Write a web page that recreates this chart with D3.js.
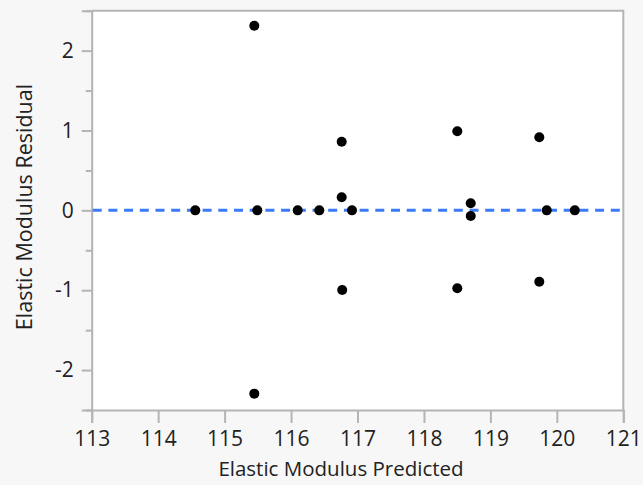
<!DOCTYPE html>
<html><head><meta charset="utf-8">
<script src="https://cdn.jsdelivr.net/npm/d3@7"></script>
<style>
html,body{margin:0;padding:0;background:#f7f7f7;}
svg{display:block;}
text{font-family:"Open Sans","Noto Sans",sans-serif;fill:#222;}
</style></head>
<body><svg id="chart" width="643" height="485"></svg>
<script>
const predicted = [115.447,114.559,115.492,116.100,116.425,116.762,116.762,116.917,116.77,118.502,118.704,118.704,118.502,119.736,119.848,119.736,120.27,115.447];
const residual  = [2.312,0,0,0,0,0.860,0.163,0,-0.997,0.990,0.088,-0.071,-0.976,0.915,0,-0.893,0,-2.295];
const xTicks = [113,114,115,116,117,118,119,120,121];
const yTicks = [-2,-1,0,1,2];
const yMinor = [-2.5,-1.5,-0.5,0.5,1.5,2.5];
const xTitle = "Elastic Modulus Predicted";
const yTitle = "Elastic Modulus Residual";

const svg = d3.select("#chart");
const L=91.7, R=623.3, T=10.7, B=410;
const x = d3.scaleLinear().domain([113,121]).range([L,R]);
const y = d3.scaleLinear().domain([-2.5,2.5]).range([B,T]);
const axisColor = "#b4b4b4";
const fmt = d => String(d);

svg.append("rect").attr("x",L).attr("y",T).attr("width",R-L).attr("height",B-T).attr("fill","#fff");
svg.append("path").attr("d",`M${L},${T}H${R}V${B}`).attr("fill","none").attr("stroke",axisColor).attr("stroke-width",2);

const gx = svg.append("g").attr("transform",`translate(0,${B})`)
  .call(d3.axisBottom(x).tickValues(xTicks).tickFormat(fmt).tickSize(13).tickPadding(8));
gx.select(".domain").attr("stroke",axisColor).attr("stroke-width",2);
gx.selectAll(".tick line").attr("stroke",axisColor).attr("stroke-width",2);
gx.selectAll(".tick text").attr("font-size",21).attr("fill","#222").attr("font-family","'Open Sans',sans-serif");

const gy = svg.append("g").attr("transform",`translate(${L},0)`)
  .call(d3.axisLeft(y).tickValues(yTicks).tickFormat(fmt).tickSize(10).tickPadding(8));
gy.select(".domain").attr("stroke",axisColor).attr("stroke-width",2);
gy.selectAll(".tick line").attr("stroke",axisColor).attr("stroke-width",2);
gy.selectAll(".tick text").attr("font-size",21).attr("fill","#222").attr("font-family","'Open Sans',sans-serif");
const gym = svg.append("g").attr("transform",`translate(${L},0)`)
  .call(d3.axisLeft(y).tickValues(yMinor).tickFormat("").tickSize(6));
gym.select(".domain").remove();
gym.selectAll(".tick line").attr("stroke",axisColor).attr("stroke-width",2);

svg.append("line").attr("x1",L+1).attr("x2",R-1).attr("y1",y(0)).attr("y2",y(0))
  .attr("stroke","#3b7bfa").attr("stroke-width",3).attr("stroke-dasharray","9,6.7");

svg.append("g").selectAll("circle").data(predicted.map((p,i)=>[p,residual[i]])).join("circle")
  .attr("cx",d=>x(d[0])).attr("cy",d=>y(d[1])).attr("r",5).attr("fill","#000");

svg.append("text").attr("x",341).attr("y",476).attr("text-anchor","middle").attr("font-size",20.5).text(xTitle);
svg.append("text").attr("transform",`translate(32,207) rotate(-90)`).attr("text-anchor","middle").attr("font-size",21.5).text(yTitle);
</script></body></html>
